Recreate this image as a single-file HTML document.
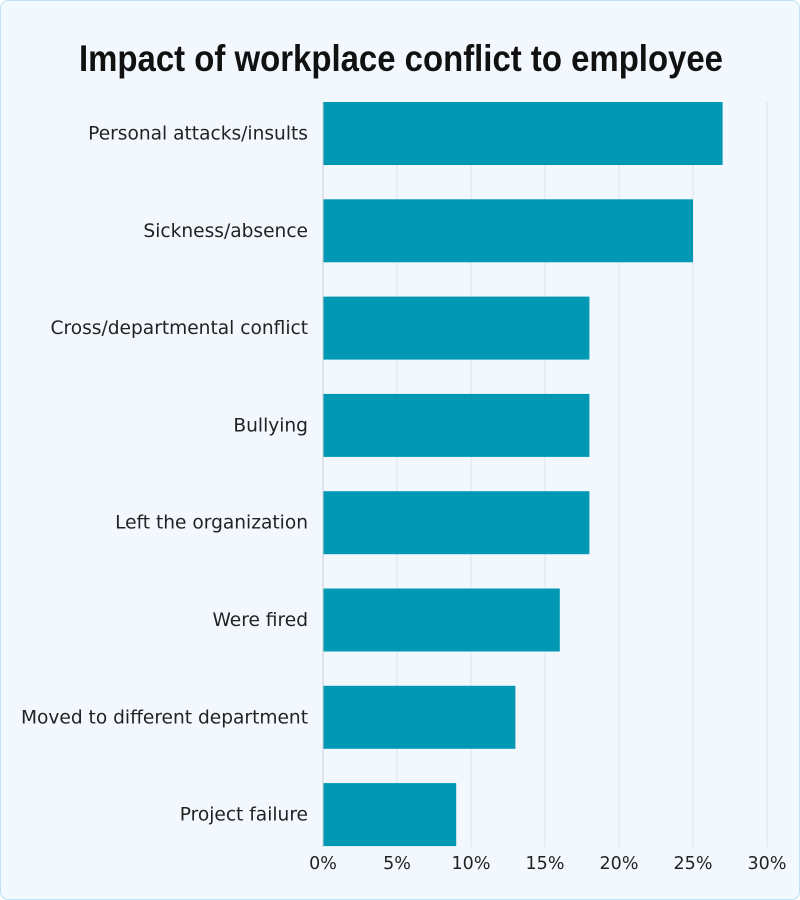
<!DOCTYPE html>
<html><head><meta charset="utf-8"><style>
html,body{margin:0;padding:0;background:#fff}
#wrap{position:absolute;left:0;top:0;width:798px;height:898px;border:1px solid #bfe3f2;border-radius:8px;background:#f3f8fe;overflow:hidden}
svg{position:absolute;left:0;top:0}
text{font-family:"DejaVu Sans","Liberation Sans",sans-serif}
</style></head><body>
<div id="wrap">
<svg id="chart" width="800" height="900">
<text x="78" y="70" textLength="644" lengthAdjust="spacingAndGlyphs" font-size="37" fill="#111" font-weight="bold" style="font-family:'Liberation Sans',sans-serif">Impact of workplace conflict to employee</text>
</svg>
</div>
<script>
const categories=["Personal attacks/insults","Sickness/absence","Cross/departmental conflict","Bullying","Left the organization","Were fired","Moved to different department","Project failure"];
const values=[27,25,18,18,18,16,13,9];
const ticks=[0,5,10,15,20,25,30];
const tickLabels=["0%","5%","10%","15%","20%","25%","30%"];
const NS="http://www.w3.org/2000/svg";
const svg=document.getElementById('chart');
const x0=322,x1=766,xmax=30,yTop=101,pitch=97.3,barH=63;
function xs(v){return x0+(x1-x0)*v/xmax;}
function yb(i){return yTop+i*pitch;}
function mk(t,a){const e=document.createElementNS(NS,t);for(const k in a)e.setAttribute(k,a[k]);svg.appendChild(e);return e;}
ticks.forEach((t,i)=>{
  if(t>0){const g=mk('line',{x1:xs(t),x2:xs(t),y1:yTop,y2:846,stroke:'#dde3ea','stroke-width':1});
  
  }
  const l=mk('text',{x:xs(t),y:868,'text-anchor':'middle','font-size':17.5,fill:'#222'});
  l.textContent=tickLabels[i];
  
  
});
categories.forEach((c,i)=>{
  const r=mk('rect',{x:x0,y:yb(i),width:xs(values[i])-x0,height:barH,fill:'#0098b3'});
  
  
  const t=mk('text',{x:307,y:yb(i)+barH/2+6,'text-anchor':'end','font-size':18.6,fill:'#222'});
  t.textContent=c;
  
  
});
const ax=mk('line',{x1:x0,x2:x0,y1:yTop,y2:846,stroke:'#c8ced6','stroke-width':1});


</script>
</body></html>
